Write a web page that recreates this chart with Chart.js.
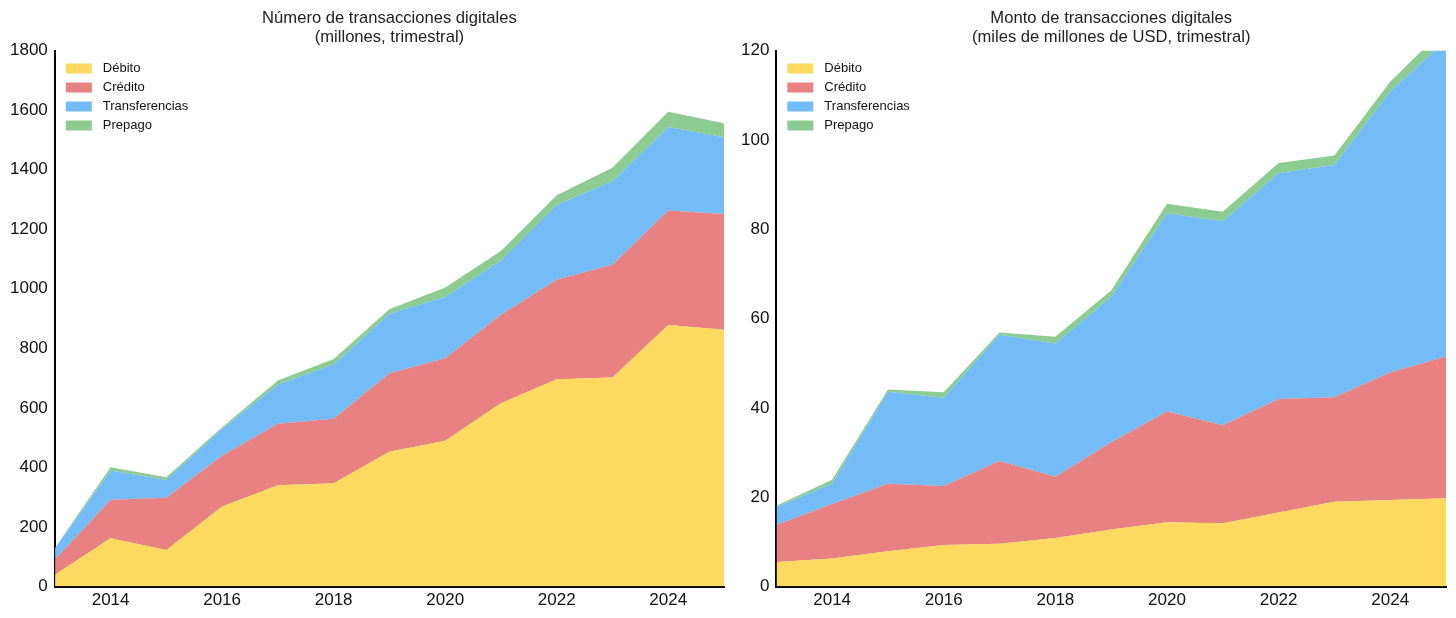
<!DOCTYPE html>
<html lang="es">
<head>
<meta charset="utf-8">
<script src="https://cdn.jsdelivr.net/npm/chart.js@4"></script>
<style>
  html, body { margin: 0; padding: 0; background: #fff; }
  .wrap { display: flex; width: 1456px; height: 618px; }
  .panel { position: relative; width: 728px; height: 618px; }
</style>
</head>
<body>
<div class="wrap">
  <div class="panel"><canvas id="numChart"></canvas></div>
  <div class="panel"><canvas id="montoChart"></canvas></div>
</div>
<script>
const years = [2013, 2014, 2015, 2016, 2017, 2018, 2019, 2020, 2021, 2022, 2023, 2024, 2025];
const seriesNames = ['Débito', 'Crédito', 'Transferencias', 'Prepago'];
const seriesColors = ['rgba(255,213,79,0.9)', 'rgba(229,115,115,0.9)', 'rgba(100,181,246,0.9)', 'rgba(129,199,132,0.9)'];

// número de transacciones (millones)
const numDebito   = [40, 162, 123, 269, 340, 347, 453, 490, 616, 696, 702, 878, 862];
const numCredito  = [50, 130, 175, 170, 207, 217, 263, 277, 297, 334, 379, 385, 389];
const numTransfer = [37, 98, 60, 91, 132, 182, 200, 205, 182, 252, 280, 280, 258];
const numPrepago  = [3, 11, 9, 5, 13, 18, 15, 32, 32, 32, 45, 51, 47];

// monto (miles de millones USD)
const montoDebito   = [5.5, 6.3, 7.9, 9.3, 9.6, 10.9, 12.8, 14.4, 14.2, 16.6, 19.0, 19.4, 19.8];
const montoCredito  = [8.3, 12.2, 15.1, 13.2, 18.5, 13.7, 19.5, 24.8, 21.9, 25.4, 23.4, 28.5, 31.7];
const montoTransfer = [4.0, 4.6, 20.6, 19.8, 28.3, 29.8, 32.5, 44.4, 45.7, 50.6, 52.0, 63.0, 70.8];
const montoPrepago  = [0.3, 0.8, 0.5, 1.2, 0.5, 1.5, 1.5, 2.1, 2.1, 2.2, 2.1, 2.1, 3.0];

const FONT = '"Liberation Sans", Arial, sans-serif';

// legend drawn inside the plot, top-left
const insideLegend = {
  id: 'insideLegend',
  afterDatasetsDraw(chart) {
    const { ctx, chartArea } = chart;
    ctx.save();
    ctx.font = '13px ' + FONT;
    ctx.textBaseline = 'middle';
    chart.data.datasets.forEach((ds, i) => {
      const x = chartArea.left + 11;
      const y = chartArea.top + 18 + i * 19;
      ctx.fillStyle = ds.backgroundColor;
      ctx.fillRect(x, y - 5, 26, 10);
      ctx.fillStyle = '#111';
      ctx.fillText(ds.label, x + 37, y);
    });
    ctx.restore();
  }
};

function makeChart(id, title, series, yMax, yStep, pad) {
  new Chart(document.getElementById(id), {
    type: 'line',
    data: {
      labels: years,
      datasets: series.map((vals, i) => ({
        label: seriesNames[i],
        data: vals,
        backgroundColor: seriesColors[i],
        borderWidth: 0,
        pointRadius: 0,
        tension: 0,
        fill: i === 0 ? 'origin' : '-1',
      })),
    },
    options: {
      responsive: true,
      maintainAspectRatio: false,
      animation: false,
      layout: { padding: pad },
      plugins: {
        legend: { display: false },
        tooltip: { enabled: false },
        title: {
          display: true,
          text: title,
          fullSize: false,
          color: '#222',
          font: { family: FONT, size: 16.6, weight: 'normal', lineHeight: 1.16 },
          padding: { top: 9, bottom: 3 },
        },
      },
      scales: {
        x: {
          offset: false,
          grid: { display: false, drawTicks: false },
          border: { display: true, color: '#000', width: 2 },
          ticks: {
            autoSkip: false,
            maxRotation: 0,
            padding: 4,
            color: '#111',
            font: { family: FONT, size: 17 },
            callback: (v, i) => (years[i] % 2 === 0 ? String(years[i]) : ''),
          },
        },
        y: {
          stacked: true,
          min: 0,
          max: yMax,
          grid: { display: false, drawTicks: false },
          border: { display: true, color: '#000', width: 2 },
          ticks: {
            stepSize: yStep,
            padding: 7,
            color: '#111',
            font: { family: FONT, size: 17 },
            callback: v => String(v),
          },
        },
      },
    },
    plugins: [insideLegend],
  });
}

makeChart('numChart',
  ['Número de transacciones digitales', '(millones, trimestral)'],
  [numDebito, numCredito, numTransfer, numPrepago],
  1800, 200, { left: 3, right: 3, top: 0, bottom: 3 });

makeChart('montoChart',
  ['Monto de transacciones digitales', '(miles de millones de USD, trimestral)'],
  [montoDebito, montoCredito, montoTransfer, montoPrepago],
  120, 20, { left: 6, right: 10, top: 0, bottom: 3 });
</script>
</body>
</html>
